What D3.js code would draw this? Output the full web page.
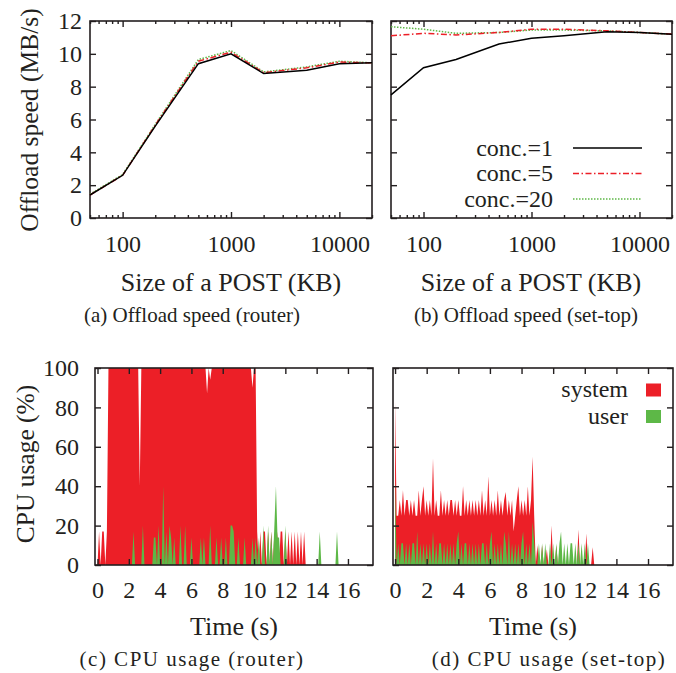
<!DOCTYPE html>
<html>
<head>
<meta charset="utf-8">
<script src="https://cdn.jsdelivr.net/npm/d3@7"></script>
<style>
body { margin: 0; background: #fff; }
text { font-family: "Liberation Serif", "Times New Roman", serif; fill: #231f20; }
</style>
</head>
<body>
<svg id="fig" width="676" height="673"></svg>
<script>
// ---- offload speed (MB/s) vs POST size (KB)
const postSizes = [50, 100, 200, 500, 1000, 2000, 5000, 10000, 20000];
const sizeTicks = [100, 1000, 10000];
const speedTicks = [0, 2, 4, 6, 8, 10, 12];

const routerConc1 = [1.4, 2.6, 5.6, 9.4, 10.0, 8.8, 9.0, 9.4, 9.45];
const routerConc5 = [1.4, 2.6, 5.65, 9.55, 10.1, 8.85, 9.15, 9.5, 9.45];
const routerConc20 = [1.45, 2.65, 5.7, 9.65, 10.2, 8.9, 9.2, 9.55, 9.45];

const settopConc1 = [7.5, 9.15, 9.65, 10.6, 10.95, 11.1, 11.35, 11.3, 11.2];
const settopConc5 = [11.1, 11.25, 11.15, 11.3, 11.5, 11.5, 11.4, 11.3, 11.2];
const settopConc20 = [11.65, 11.5, 11.25, 11.3, 11.45, 11.45, 11.4, 11.3, 11.2];

const concLabels = ["conc.=1", "conc.=5", "conc.=20"];

// ---- CPU usage (%), one sample every 0.1 s
const sampleStep = 0.1;
const timeTicks = [0, 2, 4, 6, 8, 10, 12, 14, 16];
const cpuTicks = [0, 20, 40, 60, 80, 100];

const routerSystem = [
  0, 17, 0, 17, 17, 0, 17, 100, 100, 100,
  100, 100, 100, 100, 100, 100, 100, 100, 100, 100,
  100, 100, 100, 100, 100, 100, 100, 40, 100, 100,
  100, 100, 100, 100, 100, 100, 100, 100, 100, 100,
  100, 100, 100, 100, 100, 100, 100, 100, 100, 100,
  100, 100, 100, 100, 100, 100, 100, 100, 100, 100,
  100, 100, 100, 100, 100, 100, 100, 100, 100, 100,
  87, 100, 94, 100, 100, 100, 100, 100, 100, 100,
  100, 100, 100, 100, 100, 100, 100, 100, 100, 100,
  100, 100, 100, 100, 100, 100, 100, 100, 100, 90,
  100, 100, 17, 0, 17, 0, 17, 17, 0, 17,
  0, 17, 0, 17, 0, 17, 0, 17, 17, 0,
  17, 0, 17, 0, 17, 0, 17, 0, 17, 0,
  17, 0, 17, 0
];
const routerUser = [
  0, 0, 0, 0, 0, 0, 0, 0, 0, 0,
  0, 0, 0, 0, 0, 0, 0, 0, 0, 0,
  0, 0, 0, 17, 0, 0, 0, 0, 0, 20,
  0, 0, 0, 0, 0, 0, 14, 14, 0, 20,
  0, 0, 40, 0, 17, 0, 20, 14, 0, 14,
  0, 0, 0, 20, 0, 0, 20, 0, 0, 0,
  14, 0, 0, 0, 0, 0, 14, 0, 14, 0,
  0, 0, 20, 0, 0, 0, 14, 0, 0, 14,
  0, 0, 14, 0, 0, 20, 20, 17, 0, 0,
  14, 0, 0, 0, 14, 0, 0, 0, 0, 14,
  0, 14, 0, 14, 0, 0, 20, 0, 0, 20,
  0, 17, 0, 20, 40, 14, 14, 0, 0, 0,
  20, 0, 0, 0, 0, 0, 0, 0, 0, 0,
  0, 0, 0, 0, 0, 0, 0, 0, 0, 0,
  0, 0, 17, 0, 0, 0, 0, 0, 0, 0,
  0, 0, 0, 17, 0, 0
];

const settopSystem = [
  83, 25, 25, 33, 25, 38, 25, 33, 33, 25,
  33, 25, 33, 25, 25, 38, 25, 33, 40, 25,
  33, 25, 33, 25, 54, 25, 33, 25, 25, 38,
  25, 33, 25, 33, 25, 33, 33, 25, 33, 25,
  33, 25, 25, 40, 25, 33, 25, 33, 25, 33,
  25, 33, 25, 33, 25, 38, 25, 33, 25, 45,
  25, 33, 25, 33, 25, 38, 25, 33, 25, 33,
  37, 25, 33, 25, 33, 17, 25, 33, 40, 25,
  33, 25, 33, 25, 40, 25, 33, 55, 25, 0,
  10, 0, 0, 10, 0, 0, 8, 0, 0, 20,
  0, 0, 10, 0, 0, 0, 0, 0, 0, 0,
  0, 0, 0, 0, 0, 0, 18, 0, 0, 0,
  0, 16, 0, 0, 0, 9, 0
];
const settopUser = [
  43, 0, 11, 0, 11, 11, 0, 11, 0, 11,
  0, 11, 11, 0, 17, 0, 11, 0, 11, 0,
  11, 0, 11, 0, 17, 0, 11, 0, 11, 11,
  0, 11, 0, 11, 0, 11, 0, 11, 0, 11,
  17, 0, 11, 0, 11, 11, 0, 11, 0, 11,
  0, 11, 0, 11, 0, 11, 11, 0, 11, 0,
  11, 17, 0, 11, 0, 11, 0, 11, 0, 17,
  11, 0, 17, 0, 11, 0, 11, 0, 11, 0,
  11, 17, 0, 11, 0, 11, 0, 22, 11, 0,
  0, 11, 0, 11, 0, 11, 0, 0, 11, 0,
  11, 0, 11, 0, 11, 17, 0, 11, 0, 11,
  0, 11, 11, 0, 11, 0, 11, 0, 11, 0,
  11, 0, 11, 0, 0, 0, 0
];

const RED = "#ec1f27";
const GREEN = "#5db847";
const INK = "#231f20";

const svg = d3.select("#fig");
svg.append("rect").attr("width", 676).attr("height", 673).attr("fill", "#fff");

// draws inward ticks on all four sides plus the border box
function drawFrame(g, x, y, box, o) {
    const tickLen = 6;
    g.append("g")
        .attr("transform", `translate(0,${box.y1})`)
        .call(d3.axisBottom(x).tickValues(o.xTicks).tickSize(-tickLen)
            .tickPadding(o.xPad).tickFormat(o.xFormat));
    g.append("g")
        .attr("transform", `translate(0,${box.y0})`)
        .call(d3.axisTop(x).tickValues(o.xTicks).tickSize(-tickLen).tickFormat(""));
    g.append("g")
        .attr("transform", `translate(${box.x0},0)`)
        .call(d3.axisLeft(y).tickValues(o.yTicks).tickSize(-tickLen)
            .tickPadding(o.yPad).tickFormat(o.yLabels ? d3.format("d") : ""));
    g.append("g")
        .attr("transform", `translate(${box.x1},0)`)
        .call(d3.axisRight(y).tickValues(o.yTicks).tickSize(-tickLen).tickFormat(""));

    if (o.minor) {
        g.append("g")
            .attr("transform", `translate(0,${box.y1})`)
            .call(d3.axisBottom(x).tickValues(o.minor).tickSize(-3).tickFormat(""));
        g.append("g")
            .attr("transform", `translate(0,${box.y0})`)
            .call(d3.axisTop(x).tickValues(o.minor).tickSize(-3).tickFormat(""));
    }

    g.selectAll(".domain").remove();
    g.selectAll(".tick line").attr("stroke", INK).attr("stroke-width", 1.4);
    g.selectAll(".tick text")
        .attr("fill", INK)
        .style("font-family", '"Liberation Serif", serif')
        .style("font-size", "24px");

    g.append("rect")
        .attr("x", box.x0).attr("y", box.y0)
        .attr("width", box.x1 - box.x0).attr("height", box.y1 - box.y0)
        .attr("fill", "none").attr("stroke", INK).attr("stroke-width", 1.6);
}

function addText(txt, x, y, size, opts = {}) {
    const t = svg.append("text")
        .attr("x", x).attr("y", y)
        .attr("text-anchor", opts.anchor || "middle")
        .style("font-size", size + "px")
        .text(txt);
    if (opts.rotate) t.attr("transform", `rotate(-90,${x},${y})`);
    if (opts.spacing) t.style("letter-spacing", opts.spacing + "px");
    return t;
}

// ---------- offload speed panels ----------
const speedStyles = [
    { color: "#000", dash: null, width: 1.5 },
    { color: RED, dash: "6,2.5,1.5,2.5", width: 1.5 },
    { color: GREEN, dash: "1.5,1.5", width: 1.5 }
];

function speedPanel(box, series, showYLabels) {
    const g = svg.append("g");
    const x = d3.scaleLog().domain([50, 20000]).range([box.x0, box.x1]);
    const y = d3.scaleLinear().domain([0, 12]).range([box.y1, box.y0]);
    const minor = x.ticks().filter(v => !sizeTicks.includes(v));

    drawFrame(g, x, y, box, {
        xTicks: sizeTicks, xPad: 17, xFormat: d3.format("d"),
        yTicks: speedTicks, yPad: 8, yLabels: showYLabels, minor: minor
    });

    const line = d3.line()
        .x((d, i) => x(postSizes[i]))
        .y(d => y(d));

    series.slice().reverse().forEach((vals, k) => {
        const s = speedStyles[series.length - 1 - k];
        g.append("path")
            .datum(vals)
            .attr("d", line)
            .attr("fill", "none")
            .attr("stroke", s.color)
            .attr("stroke-width", s.width)
            .attr("stroke-dasharray", s.dash);
    });
    return g;
}

const boxA = { x0: 90, x1: 372, y0: 21, y1: 218 };
const boxB = { x0: 391, x1: 672, y0: 21, y1: 218 };

speedPanel(boxA, [routerConc1, routerConc5, routerConc20], true);
const gB = speedPanel(boxB, [settopConc1, settopConc5, settopConc20], false);

// legend for (b)
const legendRows = [148, 173.5, 199];
concLabels.forEach((lab, i) => {
    addText(lab, 553, legendRows[i] + 7.5, 24, { anchor: "end" });
    const s = speedStyles[i];
    gB.append("line")
        .attr("x1", 573).attr("x2", 642)
        .attr("y1", legendRows[i]).attr("y2", legendRows[i])
        .attr("stroke", s.color).attr("stroke-width", s.width)
        .attr("stroke-dasharray", s.dash);
});

addText("Offload speed (MB/s)", 38, 120, 25.5, { rotate: true });
addText("Size of a POST (KB)", 231, 291, 26);
addText("Size of a POST (KB)", 531, 291, 26);
addText("(a) Offload speed (router)", 192, 322, 21);
addText("(b) Offload speed (set-top)", 526, 322, 21);

// ---------- CPU usage panels ----------
function cpuPanel(box, xDomain, system, user, showYLabels, id) {
    const g = svg.append("g");
    const x = d3.scaleLinear().domain(xDomain).range([box.x0, box.x1]);
    const y = d3.scaleLinear().domain([0, 100]).range([box.y1, box.y0]);

    g.append("clipPath").attr("id", id)
        .append("rect")
        .attr("x", box.x0).attr("y", box.y0)
        .attr("width", box.x1 - box.x0).attr("height", box.y1 - box.y0);

    const area = d3.area()
        .x((d, i) => x(i * sampleStep))
        .y0(y(0))
        .y1(d => y(d));

    const data = g.append("g").attr("clip-path", `url(#${id})`);
    data.append("path").datum(system).attr("d", area).attr("fill", RED);
    data.append("path").datum(user).attr("d", area).attr("fill", GREEN);

    drawFrame(g, x, y, box, {
        xTicks: timeTicks, xPad: 16, xFormat: d3.format("d"),
        yTicks: cpuTicks, yPad: 16, yLabels: showYLabels
    });
    return g;
}

const boxC = { x0: 95, x1: 373, y0: 368, y1: 565 };
const boxD = { x0: 393, x1: 673, y0: 368, y1: 565 };

cpuPanel(boxC, [-0.16, 17.6], routerSystem, routerUser, true, "clipC");
const gD = cpuPanel(boxD, [-0.13, 17.58], settopSystem, settopUser, false, "clipD");

// legend for (d)
const cpuLegend = [
    { label: "system", color: RED, y: 390 },
    { label: "user", color: GREEN, y: 416.5 }
];
cpuLegend.forEach(d => {
    addText(d.label, 628, d.y + 7, 24, { anchor: "end" });
    gD.append("rect")
        .attr("x", 646).attr("y", d.y - 6.5)
        .attr("width", 15).attr("height", 13)
        .attr("fill", d.color);
});

addText("CPU usage (%)", 34, 464, 25.5, { rotate: true });
addText("Time (s)", 234, 635, 26);
addText("Time (s)", 533, 635, 26);
addText("(c) CPU usage (router)", 192, 666, 21, { spacing: 1.5 });
addText("(d) CPU usage (set-top)", 549, 666, 21, { spacing: 1.5 });
</script>
</body>
</html>
